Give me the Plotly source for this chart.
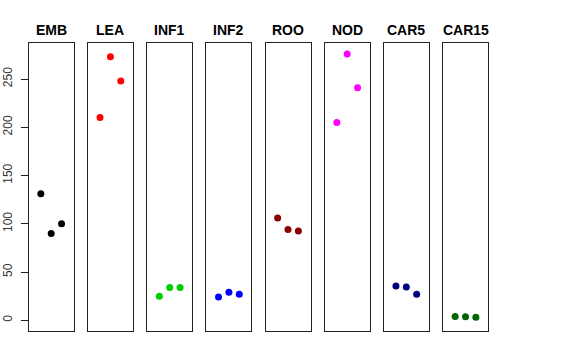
import plotly.graph_objects as go

categories = ["EMB", "LEA", "INF1", "INF2", "ROO", "NOD", "CAR5", "CAR15"]
colors = ["#000000", "#FF0000", "#00CD00", "#0000FF", "#8B0000", "#FF00FF", "#000080", "#006400"]
values = {
    "EMB": [131, 90, 100],
    "LEA": [210, 273, 248],
    "INF1": [25, 34, 34],
    "INF2": [24, 29, 27],
    "ROO": [106, 94, 92.5],
    "NOD": [205, 276, 241],
    "CAR5": [35.5, 34.5, 27],
    "CAR15": [3.8, 3.7, 3.1],
}
replicates = [1, 2, 3]
y_ticks = [0, 50, 100, 150, 200, 250]

W, H = 576, 360
panel_left = [28.7, 87.9, 147.2, 206.4, 265.5, 324.7, 383.8, 443.0]
panel_w = 45.0
y_top, y_bot = 43.3, 331.0

fig = go.Figure()
layout = dict(
    width=W, height=H,
    margin=dict(l=0, r=0, t=0, b=0, pad=0, autoexpand=False),
    paper_bgcolor="white", plot_bgcolor="white",
    showlegend=False,
    font=dict(family="Liberation Sans, Arial, sans-serif", color="#000000"),
)
annotations = []
for i, (cat, col) in enumerate(zip(categories, colors)):
    n = i + 1
    xa = "x" if n == 1 else f"x{n}"
    ya = "y" if n == 1 else f"y{n}"
    fig.add_trace(go.Scatter(
        x=replicates, y=values[cat], mode="markers",
        marker=dict(color=col, size=7, line=dict(width=0)),
        xaxis=xa, yaxis=ya, hoverinfo="y",
    ))
    x0 = panel_left[i] / W
    x1 = (panel_left[i] + panel_w) / W
    layout["xaxis" if n == 1 else f"xaxis{n}"] = dict(
        domain=[x0, x1], range=[1 - 1.17, 3 + 1.17], anchor=ya,
        showgrid=False, zeroline=False, showticklabels=False, ticks="",
        showline=True, mirror=True, linecolor="#222222", linewidth=1,
        fixedrange=True, automargin=False,
    )
    yd = dict(
        domain=[(H - y_bot) / H, (H - y_top) / H], range=[-11.1, 287], anchor=xa,
        showgrid=False, zeroline=False,
        showline=True, mirror=True, linecolor="#222222", linewidth=1,
        fixedrange=True, automargin=False,
    )
    if n == 1:
        yd.update(tickvals=y_ticks, ticks="outside", ticklen=7, tickcolor="#222222",
                  tickangle=-90, ticklabelstandoff=4,
                  tickfont=dict(size=12, color="#333333"))
    else:
        yd.update(showticklabels=False, ticks="")
    layout["yaxis" if n == 1 else f"yaxis{n}"] = yd
    annotations.append(dict(
        text=f"<b>{cat}</b>", x=(panel_left[i] + panel_w / 2) / W, y=(H - 30) / H,
        xref="paper", yref="paper", xanchor="center", yanchor="middle",
        showarrow=False, font=dict(size=14, color="#000000"),
    ))
layout["annotations"] = annotations
fig.update_layout(**layout)
fig.write_html(
    "out.html",
    config={"displayModeBar": False},
    post_script="document.body.style.margin='0';document.body.style.padding='0';",
)
